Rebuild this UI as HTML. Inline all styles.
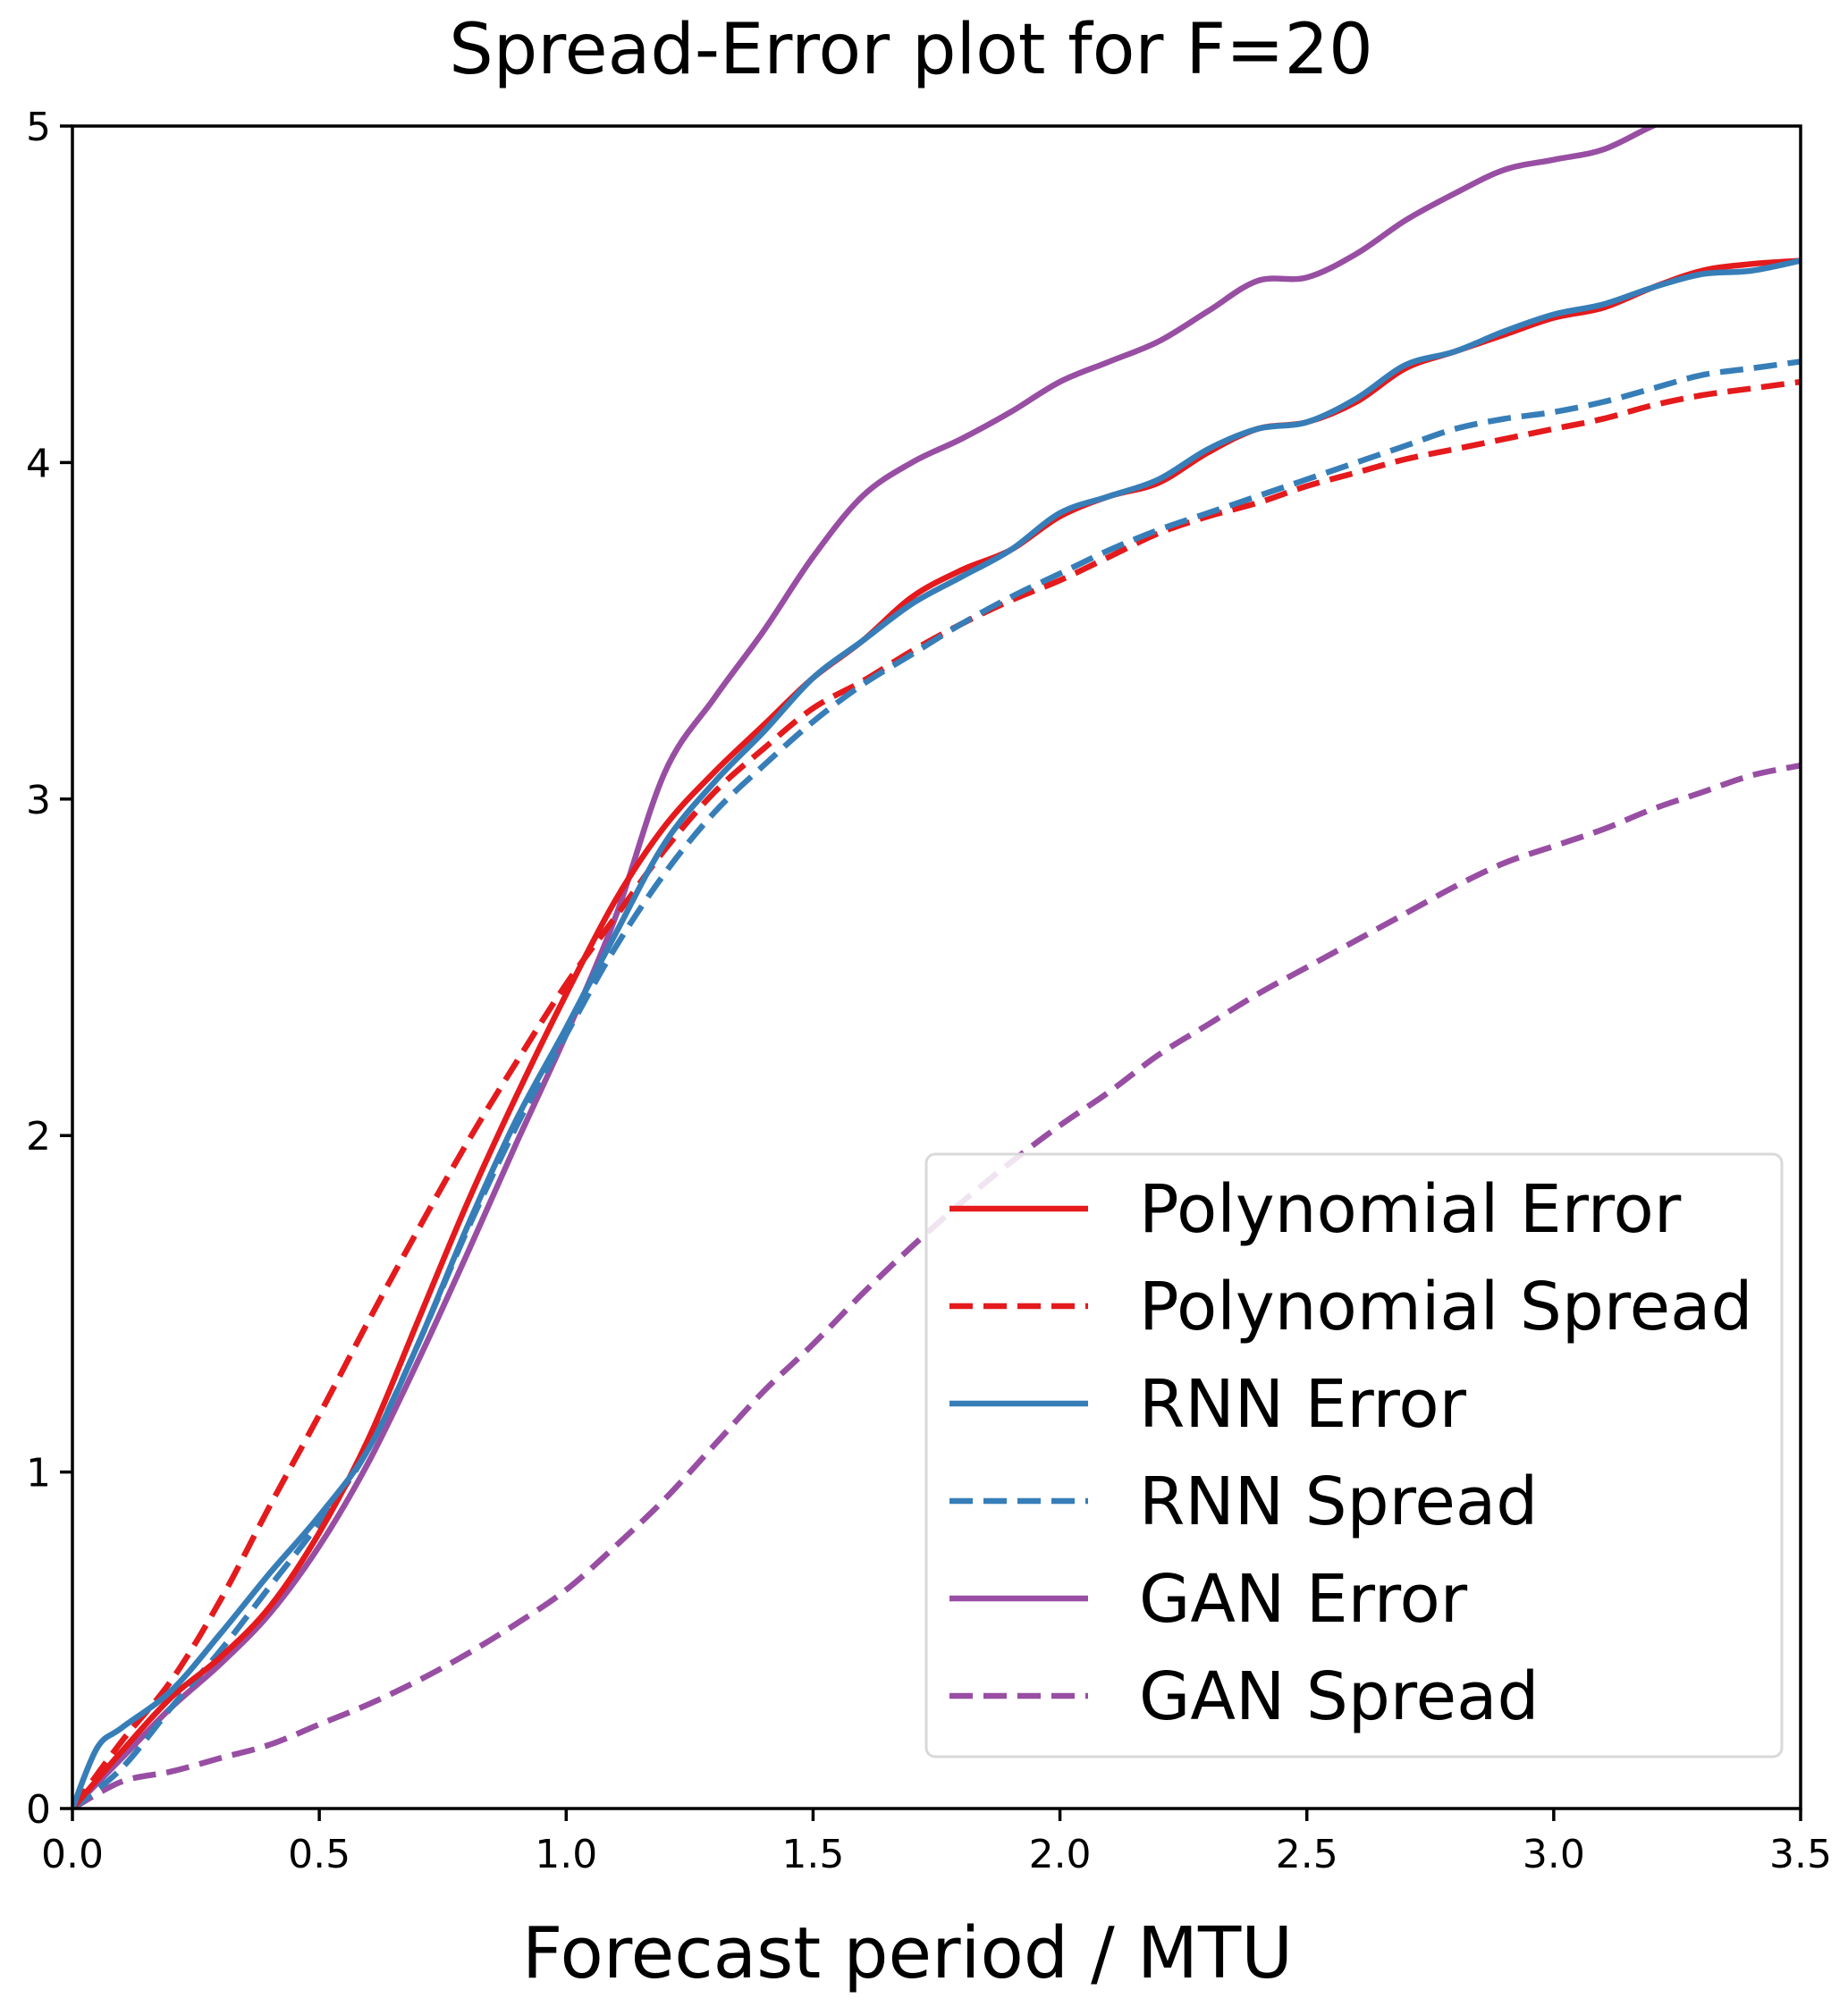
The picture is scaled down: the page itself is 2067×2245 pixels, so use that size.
<!DOCTYPE html>
<html><head><meta charset="utf-8"><style>
html,body{margin:0;padding:0;background:#fff;}
svg{display:block;font-family:"DejaVu Sans","Liberation Sans",sans-serif;}
</style></head><body>
<svg id="chart" width="2067" height="2245" viewBox="0 0 2067 2245">
<defs><clipPath id="clip"><rect x="81" y="141" width="1933" height="1882"/></clipPath></defs>
<text x="1019" y="82" text-anchor="middle" font-size="78">Spread-Error plot for F=20</text>
<g id="series" clip-path="url(#clip)"></g>
<rect x="81" y="141" width="1933" height="1882" fill="none" stroke="#000" stroke-width="3.5"/>
<g id="ticks"></g>
<text x="1015" y="2212" text-anchor="middle" font-size="79">Forecast period / MTU</text>
<g id="legend"></g>
</svg>
<script>
const xTicks=[0,0.5,1.0,1.5,2.0,2.5,3.0,3.5];
const yTicks=[0,1,2,3,4,5];
const xs=[0,0.1,0.2,0.3,0.4,0.5,0.6,0.7,0.8,0.9,1.0,1.1,1.2,1.3,1.4,1.5,1.6,1.7,1.8,1.9,2.0,2.1,2.2,2.3,2.4,2.5,2.6,2.7,2.8,2.9,3.0,3.1,3.2,3.3,3.4,3.5];
const polyError=[0,0.17,0.33,0.45,0.6,0.82,1.1,1.45,1.8,2.12,2.42,2.7,2.92,3.08,3.22,3.36,3.47,3.6,3.68,3.74,3.84,3.9,3.94,4.03,4.1,4.12,4.18,4.28,4.33,4.38,4.43,4.46,4.52,4.57,4.59,4.6];
const polySpread=[0,0.2,0.38,0.62,0.9,1.17,1.45,1.72,1.98,2.22,2.45,2.65,2.85,3.02,3.15,3.27,3.35,3.44,3.52,3.59,3.65,3.72,3.79,3.84,3.88,3.93,3.97,4.01,4.04,4.07,4.1,4.13,4.17,4.2,4.22,4.24];
const rnnErrorX=[0,0.05,0.1,0.2,0.3,0.4,0.5,0.6,0.7,0.8,0.9,1.0,1.1,1.2,1.3,1.4,1.5,1.6,1.7,1.8,1.9,2.0,2.1,2.2,2.3,2.4,2.5,2.6,2.7,2.8,2.9,3.0,3.1,3.2,3.3,3.4,3.5];
const rnnError=[0,0.18,0.24,0.35,0.52,0.7,0.87,1.07,1.38,1.73,2.05,2.32,2.6,2.87,3.05,3.2,3.36,3.47,3.58,3.66,3.74,3.85,3.9,3.95,4.04,4.1,4.12,4.19,4.29,4.33,4.39,4.44,4.47,4.52,4.56,4.57,4.6];
const rnnSpread=[0,0.12,0.3,0.47,0.66,0.85,1.07,1.38,1.72,2.03,2.3,2.56,2.78,2.96,3.1,3.23,3.34,3.43,3.52,3.6,3.67,3.74,3.8,3.85,3.9,3.95,4.0,4.05,4.1,4.13,4.15,4.18,4.22,4.26,4.28,4.3];
const ganError=[0,0.15,0.3,0.43,0.58,0.78,1.03,1.33,1.65,1.98,2.3,2.65,3.08,3.3,3.5,3.72,3.9,4.0,4.07,4.15,4.24,4.3,4.36,4.45,4.54,4.55,4.62,4.72,4.8,4.87,4.9,4.93,5.0,5.06,5.12,5.18];
const ganSpread=[0,0.08,0.11,0.15,0.19,0.25,0.31,0.38,0.46,0.55,0.65,0.78,0.92,1.08,1.24,1.38,1.53,1.67,1.8,1.92,2.03,2.13,2.24,2.33,2.42,2.5,2.58,2.66,2.74,2.81,2.86,2.91,2.97,3.02,3.07,3.1];
const seriesNames=["Polynomial Error","Polynomial Spread","RNN Error","RNN Spread","GAN Error","GAN Spread"];

const NS="http://www.w3.org/2000/svg";
const X0=81,X1=2014,Y0=2023,Y1=141;
const sx=v=>X0+(v/3.5)*(X1-X0);
const sy=v=>Y0-(v/5)*(Y0-Y1);
function mk(t,a,p){const e=document.createElementNS(NS,t);for(const k in a)e.setAttribute(k,a[k]);p.appendChild(e);return e;}
function pathD(xv,yv){
  const P=xv.map((x,i)=>[sx(x),sy(yv[i])]);
  let d="M"+P[0][0]+","+P[0][1];
  for(let i=0;i<P.length-1;i++){
    const p0=P[i-1]||P[i],p1=P[i],p2=P[i+1],p3=P[i+2]||P[i+1];
    const c1=[p1[0]+(p2[0]-p0[0])/6,p1[1]+(p2[1]-p0[1])/6];
    const c2=[p2[0]-(p3[0]-p1[0])/6,p2[1]-(p3[1]-p1[1])/6];
    d+=" C"+c1[0]+","+c1[1]+" "+c2[0]+","+c2[1]+" "+p2[0]+","+p2[1];
  }
  return d;
}
const DASH="26,12";
const styles=[
 {c:"#e41a1c",dash:null,x:xs,y:polyError},
 {c:"#e41a1c",dash:DASH,x:xs,y:polySpread},
 {c:"#377eb8",dash:null,x:rnnErrorX,y:rnnError},
 {c:"#377eb8",dash:DASH,x:xs,y:rnnSpread},
 {c:"#984ea3",dash:null,x:xs,y:ganError},
 {c:"#984ea3",dash:DASH,x:xs,y:ganSpread}
];
const sg=document.getElementById("series");
const order=[5,4,1,3,0,2];
order.forEach(i=>{const s=styles[i];
  const a={d:pathD(s.x,s.y),fill:"none",stroke:s.c,"stroke-width":6.5,"stroke-linejoin":"round"};
  if(s.dash)a["stroke-dasharray"]=s.dash;
  const p=mk("path",a,sg);
  
  
});
const tg=document.getElementById("ticks");
xTicks.forEach(v=>{
  const l=mk("line",{x1:sx(v),x2:sx(v),y1:Y0,y2:Y0+14,stroke:"#000","stroke-width":3.5},tg);
  
  
  const t=mk("text",{x:sx(v),y:Y0+66,"text-anchor":"middle","font-size":44},tg);
  t.textContent=v.toFixed(1);
  
  
});
yTicks.forEach(v=>{
  const l=mk("line",{x1:X0-14,x2:X0,y1:sy(v),y2:sy(v),stroke:"#000","stroke-width":3.5},tg);
  
  
  const t=mk("text",{x:X0-24,y:sy(v)+16,"text-anchor":"end","font-size":44},tg);
  t.textContent=String(v);
  
  
});
const lg=document.getElementById("legend");
const box=mk("rect",{x:1036,y:1291,width:957,height:674,rx:10,fill:"#fff","fill-opacity":0.85,stroke:"#d9d9d9","stroke-width":3},lg);


seriesNames.forEach((n,i)=>{
  const y=1352+i*109;const s=styles[i];
  const a={x1:1062,x2:1217,y1:y,y2:y,stroke:s.c,"stroke-width":6.5};
  if(s.dash)a["stroke-dasharray"]=DASH;
  const l=mk("line",a,lg);
  
  
  const t=mk("text",{x:1274,y:y+26,"font-size":74},lg);
  t.textContent=n;
  
  
});
</script>
</body></html>
